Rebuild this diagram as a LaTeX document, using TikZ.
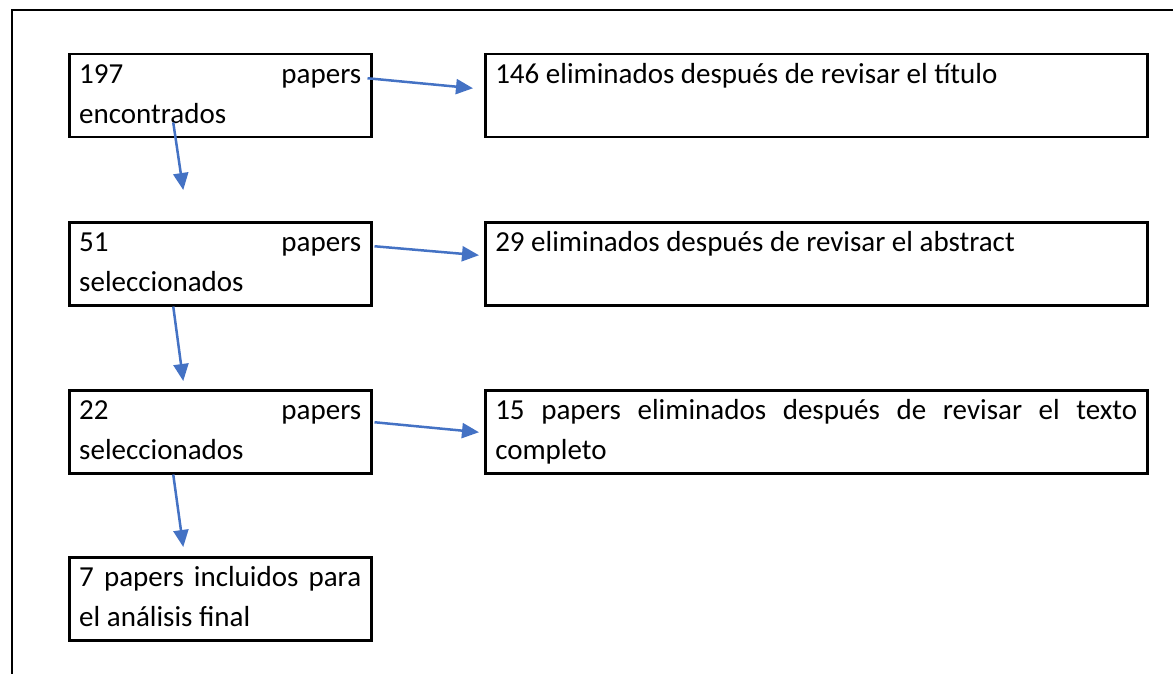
\documentclass[tikz,border=0pt]{standalone}
\usepackage{fontspec}
\setmainfont{Carlito}
\usetikzlibrary{arrows.meta,positioning,calc}
\definecolor{wordblue}{RGB}{68,114,196}
\hyphenpenalty=10000
\exhyphenpenalty=10000
\tikzset{stepbox/.style={
            draw,
            line width=1.25pt,
            anchor=north west,
            inner xsep=5pt,
            inner ysep=0.75pt,
            text width=141pt,
            text height=14pt,
            text depth=26pt,
            align=justify,
            font=\fontsize{14.5}{20}\selectfont
        },
        dropbox/.style={
            stepbox,
            text width=321pt
        },
        flow/.style={
            draw=wordblue,
            line width=1.25pt,
            -{Triangle[length=8.5pt,width=7.5pt]}
        },
        frame/.style={
            line width=1.25pt
        }
    }

\begin{document}
\begin{tikzpicture}[x=0.5pt,y=-0.5pt]
        \useasboundingbox (0,0) rectangle (1173,674);
        \draw[frame] (12,674) -- (12,10) -- (1173,10);

        \node[stepbox] (found) at (68,53) {197 papers\linebreak encontrados};
        \node[stepbox] (sel1) at (68,221) {51 papers\linebreak seleccionados};
        \node[stepbox] (sel2) at (68,389) {22 papers\linebreak seleccionados};
        \node[stepbox] (final) at (68,556) {7 papers incluidos para el análisis final};

        \node[dropbox] (out1) at (484,53) {146 eliminados después de revisar el título};
        \node[dropbox] (out2) at (484,221) {29 eliminados después de revisar el abstract};
        \node[dropbox] (out3) at (484,389) {15 papers eliminados después de revisar el texto completo};

        % discarded papers
        \draw[flow] ([shift={(-5,-17.5)}]found.east) -- ([shift={(-11,-7.5)}]out1.west);
        \draw[flow] ([shift={(2,-17.5)}]sel1.east) -- ([shift={(-5,-8.5)}]out2.west);
        \draw[flow] ([shift={(2,-9.5)}]sel2.east) -- ([shift={(-5,0.5)}]out3.west);

        % remaining papers
        \draw[flow] ([shift={(-47,-16)}]found.south) -- ([shift={(-37,-31)}]sel1.north);
        \draw[flow] ([shift={(-47,0)}]sel1.south) -- ([shift={(-37,-8)}]sel2.north);
        \draw[flow] ([shift={(-47,0)}]sel2.south) -- ([shift={(-37,-9)}]final.north);

    \end{tikzpicture}
\end{document}
